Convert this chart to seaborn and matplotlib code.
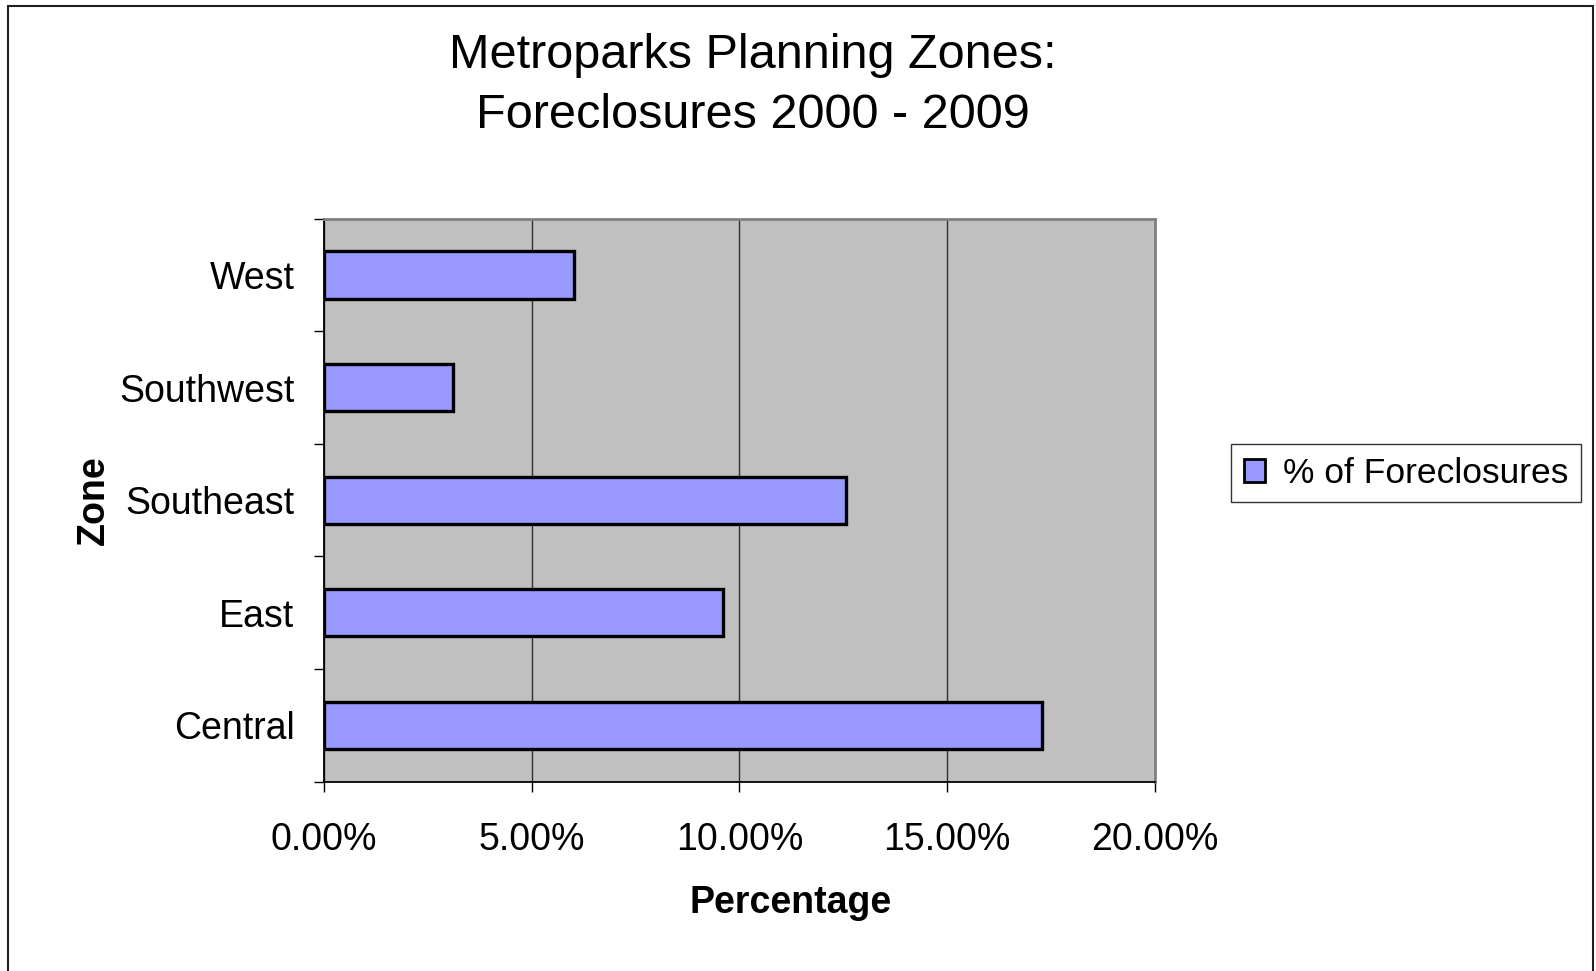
import pandas as pd
import matplotlib
matplotlib.use("Agg")
import matplotlib.pyplot as plt
import seaborn as sns
from matplotlib.patches import Patch, Rectangle
from matplotlib.ticker import PercentFormatter, FixedLocator

# data
zones = ["West", "Southwest", "Southeast", "East", "Central"]
pct_foreclosures = [0.0603, 0.0311, 0.1257, 0.0961, 0.1728]
series_name = "% of Foreclosures"

bar_color = "#9999FF"
plot_bg = "#C0C0C0"

sns.set_style("white")
plt.rcParams["font.family"] = ["Liberation Sans", "DejaVu Sans"]
plt.rcParams["text.color"] = "black"
plt.rcParams["axes.labelcolor"] = "black"
plt.rcParams["xtick.color"] = "black"
plt.rcParams["ytick.color"] = "black"

df = pd.DataFrame({"Zone": zones, "Percentage": pct_foreclosures})

fig = plt.figure(figsize=(15.96, 9.71), dpi=100)
ax = fig.add_axes([0.2028, 0.195, 0.521, 0.5797])
ax.set_facecolor(plot_bg)

sns.barplot(data=df, x="Percentage", y="Zone", orient="h", order=zones,
            color=bar_color, edgecolor="black", linewidth=2.4,
            width=0.42, saturation=1, ax=ax)

ax.set_xlim(0, 0.20)
ax.set_ylim(len(zones) - 0.5, -0.5)
ax.xaxis.set_major_locator(FixedLocator([0, 0.05, 0.10, 0.15, 0.20]))
ax.xaxis.set_major_formatter(PercentFormatter(xmax=1, decimals=2))
ax.grid(axis="x", color="#303030", linewidth=1.0)
ax.set_axisbelow(True)

# category boundary ticks on the y axis
ax.yaxis.set_minor_locator(FixedLocator([i - 0.5 for i in range(len(zones) + 1)]))
ax.tick_params(axis="y", which="major", length=0, pad=21, labelsize=27)
ax.tick_params(axis="y", which="minor", length=7.5, width=1, color="black", direction="out", left=True)
ax.tick_params(axis="x", which="major", length=7.5, width=1, color="black", direction="out",
               bottom=True, pad=21.5, labelsize=27)

for side in ["left", "bottom"]:
    ax.spines[side].set_color("black")
    ax.spines[side].set_linewidth(1.3)
for side in ["top", "right"]:
    ax.spines[side].set_color("#808080")
    ax.spines[side].set_linewidth(2)

ax.set_xlabel("Percentage", fontsize=27, fontweight="bold", va="center")
ax.xaxis.set_label_coords(0.561, -0.216)
ax.set_ylabel("Zone", fontsize=27, fontweight="bold", va="center", ha="center")
ax.yaxis.set_label_coords(-0.276, 0.5)

fig.text(0.472, 0.912, "Metroparks Planning Zones:\nForeclosures 2000 - 2009",
         ha="center", va="center", fontsize=35, linespacing=1.44, multialignment="center")

handles = [Patch(facecolor=bar_color, edgecolor="black", linewidth=2, label=series_name)]
leg = ax.legend(handles=handles, loc="center left", bbox_to_anchor=(0.7716, 0.5125),
                bbox_transform=fig.transFigure, fontsize=25.5, frameon=True, fancybox=False,
                handlelength=0.6, handleheight=0.6, handletextpad=0.5, borderpad=0.35,
                borderaxespad=0)
leg.get_frame().set_edgecolor("black")
leg.get_frame().set_linewidth(1)

# outer chart border
fig.patches.append(Rectangle((8 / 1596, -0.05), (1593 - 8) / 1596, 1.05 - 6 / 971,
                             transform=fig.transFigure, fill=False,
                             edgecolor="#202020", linewidth=1.5))

fig.savefig("out.png", dpi=100)
